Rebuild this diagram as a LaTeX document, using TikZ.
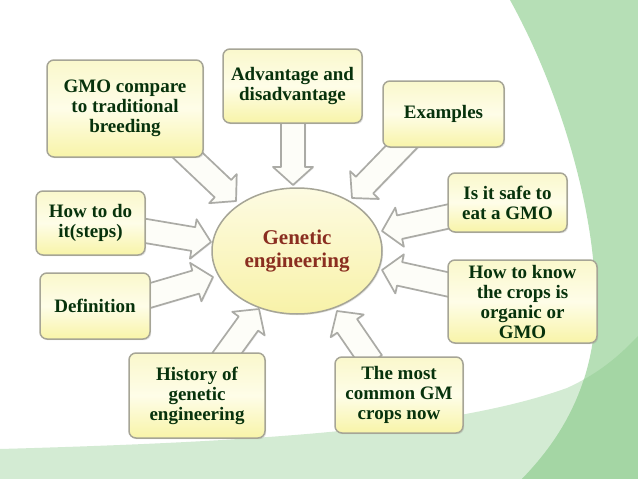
\documentclass[tikz,border=0pt]{standalone}
\usepackage{fontspec}
\setmainfont{Liberation Serif}
\usetikzlibrary{calc,shadows,shapes.geometric}
\definecolor{bandgreen}{HTML}{D3EBD3}
\definecolor{sidegreen}{HTML}{B6DFB6}
\definecolor{overgreen}{HTML}{A4D6A4}
\definecolor{boxtop}{HTML}{FAF8CC}
\definecolor{boxmid}{HTML}{FEFDE8}
\definecolor{boxbot}{HTML}{F8F4A8}
\definecolor{hubtop}{HTML}{FDFBE2}
\definecolor{hubbot}{HTML}{F8F2A8}
\definecolor{txtgreen}{HTML}{07320C}
\definecolor{txtred}{HTML}{8A2E20}
\definecolor{edgegray}{HTML}{A6A596}
\definecolor{arrowgray}{HTML}{ABABA6}
\definecolor{arrowfill}{HTML}{FDFDF8}
\tikzset{
  topic/.style={draw=edgegray, line width=1.5pt, rounded corners=7pt,
    top color=boxtop, bottom color=boxbot, middle color=boxmid,
    drop shadow={opacity=0.22, shadow xshift=1.2pt, shadow yshift=-1.2pt},
    align=center, text=txtgreen, inner sep=2pt,
    font=\fontsize{19}{20}\selectfont\bfseries},
  hub/.style={ellipse, draw=edgegray, line width=1.5pt,
    top color=hubtop, bottom color=hubbot,
    drop shadow={opacity=0.2, shadow xshift=1.2pt, shadow yshift=-1.2pt},
    minimum width=170pt, minimum height=126pt, align=center, text=txtred,
    font=\fontsize{21}{23}\selectfont\bfseries},
  bigarrow/.style={draw=arrowgray, line width=1.7pt, fill=arrowfill, line join=round,
    drop shadow={opacity=0.15, shadow xshift=1pt, shadow yshift=-1pt}}
}
\newcommand\barrow[2]{%
  \coordinate (hb) at ($(#2)!18pt!(#1)$);
  \draw[bigarrow] ($(#1)!12pt!90:(#2)$) -- ($(hb)!12pt!-90:(#1)$) -- ($(hb)!20pt!-90:(#1)$)
    -- (#2) -- ($(hb)!20pt!90:(#1)$) -- ($(hb)!12pt!90:(#1)$) -- ($(#1)!12pt!-90:(#2)$) -- cycle;}
\begin{document}
\begin{tikzpicture}[x=1pt,y=-1pt]
\useasboundingbox (0,0) rectangle (638,479);
\fill[white] (0,0) rectangle (638,479);
% background
\fill[bandgreen] (0,449) .. controls (250,442) and (450,430) .. (567,388)
   .. controls (600,373) and (620,355) .. (638,336) -- (638,479) -- (0,479) -- cycle;
\fill[sidegreen] (510,0) .. controls (560,90) and (600,220) .. (595,320)
   .. controls (590,400) and (550,450) .. (522,479) -- (638,479) -- (638,0) -- cycle;
\begin{scope}
  \clip (510,0) .. controls (560,90) and (600,220) .. (595,320)
   .. controls (590,400) and (550,450) .. (522,479) -- (638,479) -- (638,0) -- cycle;
  \fill[overgreen] (0,449) .. controls (250,442) and (450,430) .. (567,388)
   .. controls (600,373) and (620,355) .. (638,336) -- (638,479) -- (0,479) -- cycle;
\end{scope}
% arrow end points
\coordinate (s1) at (178,146); \coordinate (e1) at (236,201);
\coordinate (s2) at (293,118); \coordinate (e2) at (293,185);
\coordinate (s3) at (410,138); \coordinate (e3) at (352,198);
\coordinate (s4) at (140,230); \coordinate (e4) at (211,242);
\coordinate (s5) at (145,297); \coordinate (e5) at (213,277);
\coordinate (s6) at (455,215); \coordinate (e6) at (382,231);
\coordinate (s7) at (455,286); \coordinate (e7) at (382,270);
\coordinate (s8) at (222,360); \coordinate (e8) at (259,309);
\coordinate (s9) at (372,362); \coordinate (e9) at (337,311);
\foreach \i in {1,...,9} {\barrow{s\i}{e\i}}
% hub
\node[hub] (hub) at (297,251) {Genetic\\engineering};
% topics
\node[topic, minimum width=156pt, minimum height=97pt] (gmo) at (125,108.5) {GMO compare\\to traditional\\breeding};
\node[topic, minimum width=139pt, minimum height=74pt] (adv) at (292.5,86) {Advantage and\\disadvantage};
\node[topic, minimum width=121pt, minimum height=66pt] (ex) at (443.5,114) {Examples};
\node[topic, minimum width=109pt, minimum height=64pt] (how) at (90.5,223) {How to do\\it(steps)};
\node[topic, minimum width=110pt, minimum height=66pt] (def) at (95,306) {Definition};
\node[topic, minimum width=119pt, minimum height=59pt] (safe) at (507.5,202.5) {Is it safe to\\eat a GMO};
\node[topic, minimum width=149pt, minimum height=83pt] (know) at (522.5,301.5) {How to know\\the crops is\\organic or\\GMO};
\node[topic, minimum width=136pt, minimum height=85pt] (hist) at (197,395.5) {History of\\genetic\\engineering};
\node[topic, minimum width=128pt, minimum height=76pt] (most) at (399,395) {The most\\common GM\\crops now};
\end{tikzpicture}
\end{document}
